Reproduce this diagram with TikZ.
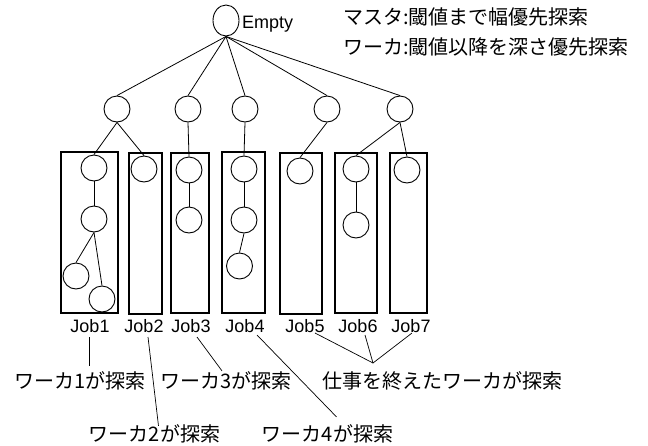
\documentclass[tikz,border=0pt]{standalone}
\usepackage{fontspec}
\setmainfont{Noto Sans CJK JP}
\newfontfamily\latinfont{Liberation Sans}
\usetikzlibrary{shapes.geometric,calc}
\begin{document}
\begin{tikzpicture}[x=1pt,y=-1pt,
  nd/.style={circle,draw,line width=0.9pt,minimum size=26pt,inner sep=0pt},
  rootnd/.style={ellipse,draw,line width=0.9pt,minimum width=26pt,minimum height=31pt,inner sep=0pt},
  edge/.style={line width=0.8pt},
  jobbox/.style={draw,line width=2pt},
  jp/.style={inner sep=0pt,font=\fontsize{20}{24}\selectfont},
  lat/.style={inner sep=0pt,font=\latinfont\fontsize{18}{22}\selectfont},
  lead/.style={line width=0.7pt}]
\useasboundingbox (0,0) rectangle (648,445);

% root
\node[rootnd] (root) at (226,20.5) {};
\node[lat,anchor=base west] (empty) at (242,28) {Empty};

% legend
\node[jp,anchor=base west] (t1) at (343,24.5) {マスタ:閾値まで幅優先探索};
\node[jp,anchor=base west] (t2) at (343,54.5) {ワーカ:閾値以降を深さ優先探索};

% level 1
\node[nd] (a1) at (117,109) {};
\node[nd] (a2) at (188,109) {};
\node[nd] (a3) at (245,109) {};
\node[nd] (a4) at (327,109) {};
\node[nd] (a5) at (400,109) {};

% job boxes
\draw[jobbox] (61,152) rectangle (118,313);
\draw[jobbox] (129,153) rectangle (162,314);
\draw[jobbox] (171,153) rectangle (209,313);
\draw[jobbox] (222,152) rectangle (265,313);
\draw[jobbox] (280,153) rectangle (322,314);
\draw[jobbox] (335,153) rectangle (377,313);
\draw[jobbox] (390,153) rectangle (427,313);

% job nodes
\node[nd] (b11) at (94,168) {};
\node[nd] (b12) at (94,219) {};
\node[nd] (b13) at (76,276) {};
\node[nd] (b14) at (102,299) {};
\node[nd] (b21) at (144,169) {};
\node[nd] (b31) at (189,170) {};
\node[nd] (b32) at (189,220) {};
\node[nd] (b41) at (244,169) {};
\node[nd] (b42) at (244,220) {};
\node[nd] (b43) at (239.5,266) {};
\node[nd] (b51) at (300,171) {};
\node[nd] (b61) at (356,169) {};
\node[nd] (b62) at (356,225) {};
\node[nd] (b71) at (407,170) {};

% edges
\foreach \n in {a1,a2,a3,a4,a5} \draw[edge] (root.south) -- (\n.north);
\draw[edge] (a1.south) -- (b11.north);
\draw[edge] (a1.south) -- (b21.north);
\draw[edge] (a2.south) -- (b31.north);
\draw[edge] (a3.south) -- (b41.north);
\draw[edge] (a4.south) -- (b51.north);
\draw[edge] (a5.south) -- (b61.north);
\draw[edge] (a5.south) -- (b71.north);
\draw[edge] (b11.south) -- (b12.north);
\draw[edge] (b12.south) -- (b13.north);
\draw[edge] (b12.south) -- (b14.north);
\draw[edge] (b31.south) -- (b32.north);
\draw[edge] (b41.south) -- (b42.north);
\draw[edge] (b42.south) -- (b43.north);
\draw[edge] (b61.south) -- (b62.north);

% job labels
\node[lat,anchor=base] (j1) at (90,332) {Job1};
\node[lat,anchor=base] (j2) at (144,332) {Job2};
\node[lat,anchor=base] (j3) at (191,332) {Job3};
\node[lat,anchor=base] (j4) at (245,332) {Job4};
\node[lat,anchor=base] (j5) at (305,332) {Job5};
\node[lat,anchor=base] (j6) at (358,332) {Job6};
\node[lat,anchor=base] (j7) at (411,332) {Job7};

% worker labels
\node[jp,anchor=base] (w1) at (80,388) {ワーカ1が探索};
\node[jp,anchor=base] (w3) at (226,388) {ワーカ3が探索};
\node[jp,anchor=base] (w5) at (442,388) {仕事を終えたワーカが探索};
\node[jp,anchor=base] (w2) at (154.5,441) {ワーカ2が探索};
\node[jp,anchor=base] (w4) at (327.5,441) {ワーカ4が探索};

\coordinate (m) at (373,363);

% leaders
\draw[lead] ($(j1.base)+(-1,5)$) -- ($(j1.base |- w1.north)+(-1,-5)$);
\draw[lead] ($(j2.base)+(4,5)$) -- ($(w2.north)+(4,2)$);
\draw[lead] ($(j3.base)+(6,5)$) -- ($(w3.north)+(-4,0)$);
\draw[lead] ($(j4.base)+(12,3)$) -- ($(w4.north)+(9,-7)$);
\draw[lead] ($(j5.base)+(10,1)$) -- (m);
\draw[lead] ($(j6.base)+(7,3)$) -- (m);
\draw[lead] ($(j7.base)+(1,1)$) -- (m);
\end{tikzpicture}
\end{document}
